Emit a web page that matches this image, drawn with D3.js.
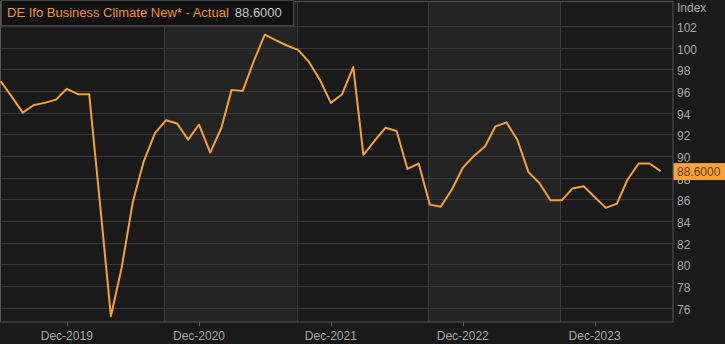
<!doctype html>
<html lang=en>
<head>
<meta charset="utf-8">
<title>Ifo</title>
<style>
body { margin:0; background:#1a1a1a; overflow:hidden; }
text { font-family: "Liberation Sans", Arial, sans-serif; }
</style>
</head>
<body>
<div id=content></div>
<script src="https://cdn.jsdelivr.net/npm/d3@7"></script>
<script>
  // monthly readings, Jun 2019 .. Jun 2024
  var startMonth = "2019-06"
  var values = [96.9, 95.5, 94.0, 94.7, 94.9, 95.2, 96.2,
                95.7, 95.7, 85.9, 75.2, 79.7, 85.8, 89.5, 92.1, 93.3, 93.0, 91.5, 92.9,
                90.3, 92.6, 96.1, 96.0, 98.7, 101.2, 100.7, 100.2, 99.8, 98.7, 97.0, 94.9,
                95.7, 98.2, 90.1, 91.4, 92.6, 92.3, 88.8, 89.3, 85.5, 85.3, 86.9, 88.9,
                90.0, 90.9, 92.7, 93.1, 91.5, 88.5, 87.5, 85.9, 85.9, 87.0, 87.2, 86.2,
                85.2, 85.6, 87.8, 89.3, 89.3, 88.6]
  var yTicks = [76, 78, 80, 82, 84, 86, 88, 90, 92, 94, 96, 98, 100, 102]
  var xTickDates = ["2019-12", "2020-12", "2021-12", "2022-12", "2023-12"]
  var bandEdges = ["2020-08-27", "2021-08-28", "2022-08-28", "2023-08-28"]
  var seriesName = "DE Ifo Business Climate New* - Actual"
  var lastLabel = "88.6000"

  var W = 725, H = 344
  var pl = 0, pr = 673, pt = 2, pb = 322

  var parseM = d3.timeParse("%Y-%m"), parseD = d3.timeParse("%Y-%m-%d")
  var s = parseM(startMonth)
  var data = values.map((v, i) => ({date: d3.timeMonth.offset(s, i), v: v}))

  var x = d3.scaleTime()
      .domain([data[0].date, data[data.length-1].date])
      .range([0.7, 660.7])
  var y = d3.scaleLinear().domain([76, 102]).range([307.5, 26])

  var svg = d3.select("#content").append("svg")
      .attr("width", W).attr("height", H)

  // alternating bands
  var edges = [x.invert(pl)].concat(bandEdges.map(parseD)).concat([x.invert(pr)])
  for (var i = 0; i < edges.length - 1; i++) {
    svg.append("rect")
      .attr("x", x(edges[i])).attr("y", pt)
      .attr("width", x(edges[i+1]) - x(edges[i])).attr("height", pb - pt)
      .attr("fill", i % 2 ? "#242424" : "#1a1a1a")
  }
  bandEdges.forEach(function(d){
    var xx = Math.round(x(parseD(d))) + 0.5
    svg.append("line").attr("x1", xx).attr("x2", xx).attr("y1", pt).attr("y2", pb)
      .attr("stroke", "#3c3c3c")
  })

  // grid
  svg.selectAll(".grid").data(yTicks).enter().append("line")
    .attr("x1", pl).attr("x2", pr)
    .attr("y1", d => Math.round(y(d)) + 0.5).attr("y2", d => Math.round(y(d)) + 0.5)
    .attr("stroke", "#3a3a3a")

  // frame
  svg.append("rect").attr("x", pl + 0.5).attr("y", pt - 0.5)
    .attr("width", pr - pl - 0.5).attr("height", pb - pt + 0.5)
    .attr("fill", "none").attr("stroke", "#555")

  // y labels
  svg.selectAll(".yl").data(yTicks).enter().append("text")
    .attr("x", pr + 4).attr("y", d => y(d) + 6)
    .attr("fill", "#a8a8a8").attr("font-size", 12)
    .text(d => d)
  svg.append("text").attr("x", pr + 4).attr("y", 12)
    .attr("fill", "#a8a8a8").attr("font-size", 12).text("Index")

  // x ticks
  var xt = xTickDates.map(parseM)
  svg.selectAll(".xt").data(xt).enter().append("line")
    .attr("x1", d => Math.round(x(d)) + 0.5).attr("x2", d => Math.round(x(d)) + 0.5)
    .attr("y1", pb).attr("y2", pb + 4).attr("stroke", "#666")
  svg.selectAll(".xl").data(xt).enter().append("text")
    .attr("x", d => x(d)).attr("y", 340)
    .attr("text-anchor", "middle")
    .attr("fill", "#a8a8a8").attr("font-size", 12)
    .text(d3.timeFormat("%b-%Y"))

  // line
  svg.append("clipPath").attr("id", "clip").append("rect")
    .attr("x", pl).attr("y", pt).attr("width", pr - pl).attr("height", pb - pt)
  var line = d3.line().x(d => x(d.date)).y(d => y(d.v))
  svg.append("path").datum(data)
    .attr("clip-path", "url(#clip)")
    .attr("d", line)
    .attr("fill", "none").attr("stroke", "#f5a038").attr("stroke-width", 2)
    .attr("stroke-linejoin", "round")

  // last value tag
  var last = data[data.length-1]
  svg.append("rect").attr("x", pr + 0.5).attr("y", y(last.v) - 8)
    .attr("width", W - pr).attr("height", 17).attr("fill", "#f7a23e")
  svg.append("text").attr("x", pr + 4).attr("y", y(last.v) + 5)
    .attr("fill", "#6b3a08").attr("font-size", 12).text(lastLabel)

  // legend
  svg.append("rect").attr("x", 1.5).attr("y", 0.5).attr("width", 292).attr("height", 25)
    .attr("fill", "#111").attr("stroke", "#444")
  var lg = svg.append("text").attr("x", 7).attr("y", 17).attr("font-size", 13)
  lg.append("tspan").attr("fill", "#f0922e").text(seriesName)
  lg.append("tspan").attr("fill", "#c8c8c8").attr("dx", 6).text(lastLabel)
</script>
</body>
</html>
